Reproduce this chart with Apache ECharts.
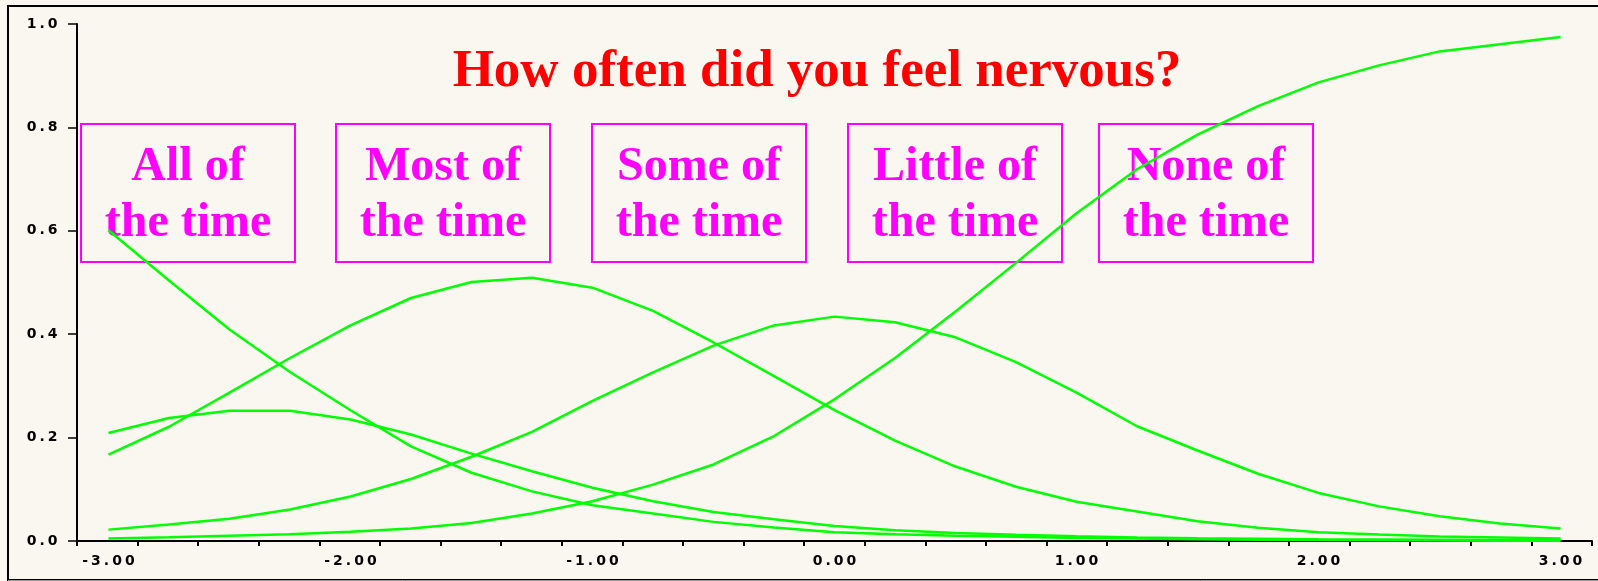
<!DOCTYPE html>
<html>
<head>
<meta charset="utf-8">
<title>How often did you feel nervous?</title>
<script src="https://cdn.jsdelivr.net/npm/echarts@6/dist/echarts.min.js"></script>
<style>
  html, body { margin: 0; padding: 0; background: #f9f7ef; }
  #chart { width: 1598px; height: 581px; }
</style>
</head>
<body>
<div id="chart"></div>
<script>
// measure (logits), one point every 0.25
const xValues = [-3, -2.75, -2.5, -2.25, -2, -1.75, -1.5, -1.25, -1, -0.75, -0.5, -0.25, 0,
  0.25, 0.5, 0.75, 1, 1.25, 1.5, 1.75, 2, 2.25, 2.5, 2.75, 3]

// category probability curves
const allOfTime = [0.601, 0.504, 0.409, 0.327, 0.253, 0.183, 0.132, 0.096, 0.069, 0.053, 0.037, 0.026, 0.017,
  0.013, 0.010, 0.008, 0.006, 0.005, 0.0035, 0.0025, 0.0018, 0.0013, 0.001, 0.0007, 0.0005]
const mostOfTime = [0.209, 0.238, 0.252, 0.252, 0.235, 0.206, 0.169, 0.135, 0.103, 0.077, 0.056, 0.042, 0.029,
  0.021, 0.0155, 0.012, 0.009, 0.007, 0.0055, 0.0045, 0.0035, 0.0028, 0.0022, 0.0018, 0.0014]
const someOfTime = [0.167, 0.221, 0.287, 0.354, 0.417, 0.470, 0.501, 0.509, 0.490, 0.445, 0.384, 0.319, 0.253,
  0.194, 0.144, 0.105, 0.076, 0.057, 0.038, 0.0255, 0.017, 0.0125, 0.0088, 0.0068, 0.0048]
const littleOfTime = [0.022, 0.032, 0.043, 0.061, 0.086, 0.120, 0.163, 0.211, 0.271, 0.326, 0.378, 0.417, 0.434,
  0.423, 0.394, 0.346, 0.287, 0.222, 0.175, 0.130, 0.093, 0.067, 0.048, 0.034, 0.024]
const noneOfTime = [0.005, 0.0074, 0.0103, 0.013, 0.018, 0.024, 0.035, 0.053, 0.077, 0.109, 0.148, 0.203, 0.274,
  0.354, 0.444, 0.538, 0.634, 0.719, 0.786, 0.841, 0.887, 0.920, 0.947, 0.961, 0.975]

const xTickLabels = [-3, -2, -1, 0, 1, 2, 3]
const yTickLabels = [0, 0.2, 0.4, 0.6, 0.8, 1.0]
const boxLabels = ['All of\nthe time', 'Most of\nthe time', 'Some of\nthe time', 'Little of\nthe time', 'None of\nthe time']
const chartTitle = 'How often did you feel nervous?'

const xMin = -3.13
const xMax = 3.13
// 25 evenly spaced minor ticks across the whole axis
const minorTicks = []
for (let i = 0; i <= 25; i++) {
  minorTicks.push(xMin + (xMax - xMin) * i / 25)
}

// spread the characters out a bit, the original uses a very wide face
function spaced(str) {
  return str.split('').map(c => '{c|' + c + '}').join('')
}
const labelFont = {
  fontFamily: 'DejaVu Sans',
  fontWeight: 'bold',
  fontSize: 14,
  color: '#000'
}
const wideRich = {
  c: Object.assign({ padding: [0, 1.5, 0, 1.5] }, labelFont)
}

const curves = [allOfTime, mostOfTime, someOfTime, littleOfTime, noneOfTime]
const series = curves.map((vals, k) => ({
  name: boxLabels[k].replace('\n', ' '),
  type: 'line',
  data: xValues.map((x, i) => [x, vals[i]]),
  showSymbol: false,
  smooth: false,
  z: 5,
  lineStyle: { color: '#00ff00', width: 2.5 }
}))

const boxX = [81, 336, 592, 848, 1099]
const boxes = boxLabels.map((label, i) => ({
  type: 'group',
  z: 1,
  children: [
    {
      type: 'rect',
      shape: { x: boxX[i], y: 124, width: 214, height: 138 },
      style: { fill: 'none', stroke: '#ff00ff', lineWidth: 2 }
    },
    {
      type: 'text',
      x: boxX[i] + 107,
      y: 196,
      style: {
        text: label,
        align: 'center',
        verticalAlign: 'middle',
        font: 'bold 48px "Liberation Serif"',
        lineHeight: 56,
        fill: '#ff00ff'
      }
    }
  ]
}))

const chart = echarts.init(document.getElementById('chart'))
chart.setOption({
  backgroundColor: '#f9f7ef',
  animation: false,
  grid: { left: 77, right: 6, top: 24, bottom: 40 },
  xAxis: {
    type: 'value',
    min: xMin,
    max: xMax,
    splitLine: { show: false },
    axisLine: { onZero: false, lineStyle: { color: '#000', width: 2 } },
    axisTick: {
      length: 5,
      customValues: minorTicks,
      lineStyle: { color: '#000', width: 2 }
    },
    axisLabel: Object.assign({
      customValues: xTickLabels,
      margin: 13,
      formatter: v => spaced(v.toFixed(2)),
      rich: wideRich
    }, labelFont)
  },
  yAxis: {
    type: 'value',
    min: 0,
    max: 1,
    splitLine: { show: false },
    axisLine: { show: true, onZero: false, lineStyle: { color: '#000', width: 2 } },
    axisTick: { length: 9, customValues: yTickLabels, lineStyle: { color: '#000', width: 1.5 } },
    axisLabel: Object.assign({
      customValues: yTickLabels,
      margin: 18,
      formatter: v => spaced(v.toFixed(1)),
      rich: wideRich
    }, labelFont)
  },
  graphic: [
    {
      type: 'rect',
      z: 0,
      shape: { x: 8, y: 6, width: 1600, height: 574 },
      style: { fill: 'none', stroke: '#000', lineWidth: 2 }
    },
    {
      type: 'line',
      z: 0,
      shape: { x1: 8, y1: 580.5, x2: 1598, y2: 580.5 },
      style: { stroke: '#9a9a9a', lineWidth: 1 }
    },
    {
      type: 'text',
      z: 1,
      x: 817,
      y: 72,
      style: {
        text: chartTitle,
        align: 'center',
        verticalAlign: 'middle',
        font: 'bold 53px "Liberation Serif"',
        fill: '#ff0000'
      }
    }
  ].concat(boxes),
  series: series
})
</script>
</body>
</html>
